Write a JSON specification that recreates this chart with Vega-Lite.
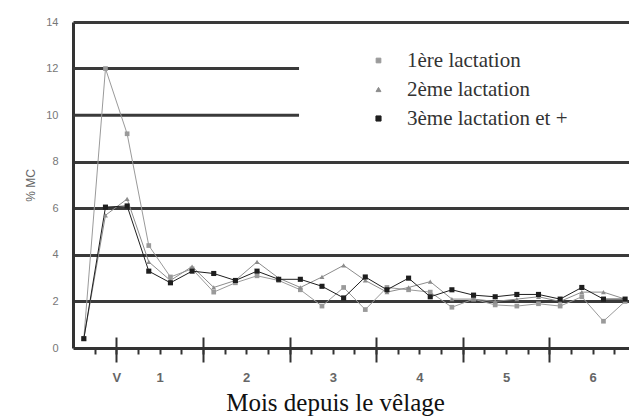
{
  "$schema": "https://vega.github.io/schema/vega-lite/v6.json",
  "width": 556,
  "height": 326,
  "autosize": {"type": "none"},
  "padding": {"left": 73, "top": 22, "right": 0, "bottom": 69},
  "background": "white",
  "config": {"view": {"stroke": null}},
  "datasets": {
    "ref": [{"level": 10}, {"level": 12}],
    "mc": [
      {"x": -0.375, "s": "1ère lactation", "v": 0.4},
      {"x": -0.125, "s": "1ère lactation", "v": 12.0},
      {"x": 0.125, "s": "1ère lactation", "v": 9.2},
      {"x": 0.375, "s": "1ère lactation", "v": 4.4},
      {"x": 0.625, "s": "1ère lactation", "v": 3.05},
      {"x": 0.875, "s": "1ère lactation", "v": 3.4},
      {"x": 1.125, "s": "1ère lactation", "v": 2.4},
      {"x": 1.375, "s": "1ère lactation", "v": 2.8},
      {"x": 1.625, "s": "1ère lactation", "v": 3.1},
      {"x": 1.875, "s": "1ère lactation", "v": 2.9},
      {"x": 2.125, "s": "1ère lactation", "v": 2.5},
      {"x": 2.375, "s": "1ère lactation", "v": 1.8},
      {"x": 2.625, "s": "1ère lactation", "v": 2.6},
      {"x": 2.875, "s": "1ère lactation", "v": 1.65},
      {"x": 3.125, "s": "1ère lactation", "v": 2.6},
      {"x": 3.375, "s": "1ère lactation", "v": 2.5},
      {"x": 3.625, "s": "1ère lactation", "v": 2.4},
      {"x": 3.875, "s": "1ère lactation", "v": 1.75},
      {"x": 4.125, "s": "1ère lactation", "v": 2.1},
      {"x": 4.375, "s": "1ère lactation", "v": 1.85},
      {"x": 4.625, "s": "1ère lactation", "v": 1.8},
      {"x": 4.875, "s": "1ère lactation", "v": 1.9},
      {"x": 5.125, "s": "1ère lactation", "v": 1.8},
      {"x": 5.375, "s": "1ère lactation", "v": 2.2},
      {"x": 5.625, "s": "1ère lactation", "v": 1.15},
      {"x": 5.875, "s": "1ère lactation", "v": 2.0},
      {"x": -0.375, "s": "2ème lactation", "v": 0.4},
      {"x": -0.125, "s": "2ème lactation", "v": 5.7},
      {"x": 0.125, "s": "2ème lactation", "v": 6.4},
      {"x": 0.375, "s": "2ème lactation", "v": 3.7},
      {"x": 0.625, "s": "2ème lactation", "v": 2.9},
      {"x": 0.875, "s": "2ème lactation", "v": 3.5},
      {"x": 1.125, "s": "2ème lactation", "v": 2.6},
      {"x": 1.375, "s": "2ème lactation", "v": 2.9},
      {"x": 1.625, "s": "2ème lactation", "v": 3.7},
      {"x": 1.875, "s": "2ème lactation", "v": 3.0},
      {"x": 2.125, "s": "2ème lactation", "v": 2.6},
      {"x": 2.375, "s": "2ème lactation", "v": 3.05},
      {"x": 2.625, "s": "2ème lactation", "v": 3.55},
      {"x": 2.875, "s": "2ème lactation", "v": 2.9},
      {"x": 3.125, "s": "2ème lactation", "v": 2.4},
      {"x": 3.375, "s": "2ème lactation", "v": 2.6},
      {"x": 3.625, "s": "2ème lactation", "v": 2.85},
      {"x": 3.875, "s": "2ème lactation", "v": 2.1},
      {"x": 4.125, "s": "2ème lactation", "v": 2.1},
      {"x": 4.375, "s": "2ème lactation", "v": 2.0},
      {"x": 4.625, "s": "2ème lactation", "v": 2.1},
      {"x": 4.875, "s": "2ème lactation", "v": 2.2},
      {"x": 5.125, "s": "2ème lactation", "v": 2.0},
      {"x": 5.375, "s": "2ème lactation", "v": 2.4},
      {"x": 5.625, "s": "2ème lactation", "v": 2.4},
      {"x": 5.875, "s": "2ème lactation", "v": 2.1},
      {"x": -0.375, "s": "3ème lactation et +", "v": 0.4},
      {"x": -0.125, "s": "3ème lactation et +", "v": 6.05},
      {"x": 0.125, "s": "3ème lactation et +", "v": 6.1},
      {"x": 0.375, "s": "3ème lactation et +", "v": 3.3},
      {"x": 0.625, "s": "3ème lactation et +", "v": 2.8},
      {"x": 0.875, "s": "3ème lactation et +", "v": 3.3},
      {"x": 1.125, "s": "3ème lactation et +", "v": 3.2},
      {"x": 1.375, "s": "3ème lactation et +", "v": 2.9},
      {"x": 1.625, "s": "3ème lactation et +", "v": 3.3},
      {"x": 1.875, "s": "3ème lactation et +", "v": 2.95},
      {"x": 2.125, "s": "3ème lactation et +", "v": 2.95},
      {"x": 2.375, "s": "3ème lactation et +", "v": 2.65},
      {"x": 2.625, "s": "3ème lactation et +", "v": 2.15},
      {"x": 2.875, "s": "3ème lactation et +", "v": 3.05},
      {"x": 3.125, "s": "3ème lactation et +", "v": 2.5},
      {"x": 3.375, "s": "3ème lactation et +", "v": 3.0},
      {"x": 3.625, "s": "3ème lactation et +", "v": 2.2},
      {"x": 3.875, "s": "3ème lactation et +", "v": 2.5},
      {"x": 4.125, "s": "3ème lactation et +", "v": 2.27},
      {"x": 4.375, "s": "3ème lactation et +", "v": 2.2},
      {"x": 4.625, "s": "3ème lactation et +", "v": 2.3},
      {"x": 4.875, "s": "3ème lactation et +", "v": 2.3},
      {"x": 5.125, "s": "3ème lactation et +", "v": 2.1},
      {"x": 5.375, "s": "3ème lactation et +", "v": 2.6},
      {"x": 5.625, "s": "3ème lactation et +", "v": 2.1},
      {"x": 5.875, "s": "3ème lactation et +", "v": 2.1}
    ]
  },
  "resolve": {"axis": {"x": "independent"}},
  "layer": [
    {
      "data": {"name": "ref"},
      "mark": {"type": "rule", "stroke": "#3a3a3a", "strokeWidth": 3},
      "encoding": {
        "y": {
          "field": "level", "type": "quantitative",
          "scale": {"domain": [0, 14], "nice": false},
          "axis": {
            "title": "% MC", "values": [0, 2, 4, 6, 8, 10, 12, 14], "tickSize": 0, "labelPadding": 15,
            "labelFont": "Liberation Sans", "labelFontSize": 11, "labelColor": "#777",
            "domainColor": "#333", "domainWidth": 3,
            "grid": true, "gridWidth": 3,
            "gridColor": {"condition": {"test": "datum.value == 10 || datum.value == 12 || datum.value == 0", "value": "transparent"}, "value": "#3a3a3a"},
            "titleFont": "Liberation Sans", "titleFontSize": 12, "titleFontWeight": "normal", "titleColor": "#666",
            "titleX": -43, "titleY": 163, "titleAngle": -90, "titleAlign": "center", "titleBaseline": "middle"
          }
        },
        "x": {
          "datum": -0.5, "type": "quantitative",
          "scale": {"domain": [-0.5, 5.92], "nice": false, "zero": false},
          "axis": {"orient": "bottom", "values": [0, 1, 2, 3, 4, 5], "tickSize": -11, "tickWidth": 2, "tickColor": "#333", "labels": false, "domain": false, "grid": false, "title": null}
        },
        "x2": {"datum": 2.11}
      }
    },
    {
      "data": {"name": "mc"},
      "mark": {"type": "line"},
      "encoding": {
        "x": {
          "field": "x", "type": "quantitative",
          "scale": {"domain": [-0.5, 5.92], "nice": false, "zero": false},
          "axis": {
            "orient": "bottom",
            "values": [-0.25, 0, 0.25, 0.5, 0.75, 1, 1.25, 1.5, 1.75, 2, 2.25, 2.5, 2.75, 3, 3.25, 3.5, 3.75, 4, 4.25, 4.5, 4.75, 5, 5.25, 5.5, 5.75],
            "tickSize": 6, "tickWidth": 2, "tickColor": "#333",
            "domainColor": "#333", "domainWidth": 3, "grid": false,
            "labelExpr": "datum.value == 0 ? 'V' : (datum.value % 1 == 0.5 ? '' + (floor(datum.value) + 1) : '')",
            "labelOverlap": false, "labelFlush": false,
            "labelFont": "Liberation Sans", "labelFontSize": 13, "labelFontWeight": "bold", "labelColor": "#666", "labelPadding": 17,
            "title": "Mois depuis le vêlage",
            "titleFont": "Liberation Serif, serif", "titleFontSize": 25, "titleFontWeight": "normal", "titleColor": "#111",
            "titleX": 262, "titleY": 62, "titleBaseline": "alphabetic", "titleAlign": "center"
          }
        },
        "y": {
          "field": "v", "type": "quantitative",
          "scale": {"domain": [0, 14], "nice": false},
          "axis": {
            "title": "% MC", "values": [0, 2, 4, 6, 8, 10, 12, 14], "tickSize": 0, "labelPadding": 15,
            "labelFont": "Liberation Sans", "labelFontSize": 11, "labelColor": "#777",
            "domainColor": "#333", "domainWidth": 3,
            "grid": true, "gridWidth": 3,
            "gridColor": {"condition": {"test": "datum.value == 10 || datum.value == 12 || datum.value == 0", "value": "transparent"}, "value": "#3a3a3a"},
            "titleFont": "Liberation Sans", "titleFontSize": 12, "titleFontWeight": "normal", "titleColor": "#666",
            "titleX": -43, "titleY": 163, "titleAngle": -90, "titleAlign": "center", "titleBaseline": "middle"
          }
        },
        "stroke": {
          "field": "s", "type": "nominal",
          "scale": {"domain": ["1ère lactation", "2ème lactation", "3ème lactation et +"], "range": ["#9a9a9a", "#8c8c8c", "#1e1e1e"]},
          "legend": {
            "orient": "none", "legendX": 295, "legendY": 28, "title": null, "padding": 0,
            "labelFont": "Liberation Serif, serif", "labelFontSize": 21, "labelColor": "#333", "labelOffset": 18, "labelLimit": 300,
            "rowPadding": 7, "symbolStrokeWidth": 1.2
          }
        },
        "strokeWidth": {
          "field": "s", "type": "nominal",
          "scale": {"domain": ["1ère lactation", "2ème lactation", "3ème lactation et +"], "range": [1, 1, 2.4]},
          "legend": null
        }
      }
    },
    {
      "data": {"name": "mc"},
      "mark": {"type": "point", "filled": true, "opacity": 1},
      "encoding": {
        "x": {
          "field": "x", "type": "quantitative",
          "scale": {"domain": [-0.5, 5.92], "nice": false, "zero": false},
          "axis": {"orient": "bottom", "values": [0, 1, 2, 3, 4, 5], "tickSize": 14, "tickWidth": 2, "tickColor": "#333", "labels": false, "domain": false, "grid": false, "title": null}
        },
        "y": {
          "field": "v", "type": "quantitative",
          "scale": {"domain": [0, 14], "nice": false},
          "axis": {
            "title": "% MC", "values": [0, 2, 4, 6, 8, 10, 12, 14], "tickSize": 0, "labelPadding": 15,
            "labelFont": "Liberation Sans", "labelFontSize": 11, "labelColor": "#777",
            "domainColor": "#333", "domainWidth": 3,
            "grid": true, "gridWidth": 3,
            "gridColor": {"condition": {"test": "datum.value == 10 || datum.value == 12 || datum.value == 0", "value": "transparent"}, "value": "#3a3a3a"},
            "titleFont": "Liberation Sans", "titleFontSize": 12, "titleFontWeight": "normal", "titleColor": "#666",
            "titleX": -43, "titleY": 163, "titleAngle": -90, "titleAlign": "center", "titleBaseline": "middle"
          }
        },
        "fill": {
          "field": "s", "type": "nominal",
          "scale": {"domain": ["1ère lactation", "2ème lactation", "3ème lactation et +"], "range": ["#9a9a9a", "#8c8c8c", "#1e1e1e"]},
          "legend": null
        },
        "shape": {
          "field": "s", "type": "nominal",
          "scale": {"domain": ["1ère lactation", "2ème lactation", "3ème lactation et +"], "range": ["square", "triangle-up", "square"]},
          "legend": null
        },
        "size": {
          "field": "s", "type": "nominal",
          "scale": {"domain": ["1ère lactation", "2ème lactation", "3ème lactation et +"], "range": [22, 26, 50]},
          "legend": null
        }
      }
    }
  ]
}
